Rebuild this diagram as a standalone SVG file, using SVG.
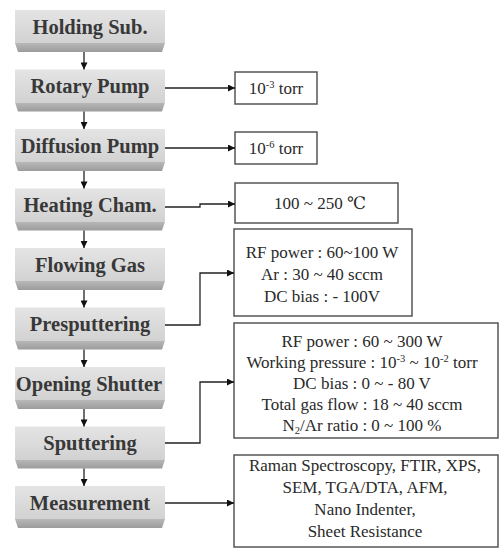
<svg xmlns="http://www.w3.org/2000/svg" width="500" height="549" viewBox="0 0 500 549">
<defs>
<linearGradient id="face" x1="0" y1="0" x2="0" y2="1">
<stop offset="0" stop-color="#e4e4e4"/>
<stop offset="1" stop-color="#d2d2d2"/>
</linearGradient>
<linearGradient id="bevel" x1="0" y1="0" x2="0" y2="1">
<stop offset="0" stop-color="#b8b8b8"/>
<stop offset="1" stop-color="#9c9c9c"/>
</linearGradient>
<marker id="ah" viewBox="0 0 10 10" refX="10" refY="5" markerWidth="8" markerHeight="7" markerUnits="userSpaceOnUse" orient="auto">
<path d="M0,0 L10,5 L0,10 z" fill="#111"/>
</marker>
</defs>
<style>
.face{fill:url(#face)}
.bev{fill:url(#bevel)}
.lt{font-family:'Liberation Serif','DejaVu Serif',serif;font-weight:bold;font-size:20.5px;fill:#383838;text-anchor:middle}
.box{fill:#fff;stroke:#555;stroke-width:1.5}
.rt{font-family:'Liberation Serif','DejaVu Serif',serif;font-size:17px;fill:#2a2a2a;text-anchor:middle}
.sup{font-size:10.5px}
.c{fill:none;stroke:#222;stroke-width:1.3}
</style>
<rect width="500" height="549" fill="#fff"/>

<g id="holding">
<rect class="face" x="15" y="10" width="150" height="33"/>
<polygon class="bev" points="15,43 165,43 162,52 18,52"/>
<text class="lt" x="90" y="33.5">Holding Sub.</text>
</g>
<g id="rotary">
<rect class="face" x="15" y="69.5" width="150" height="33"/>
<polygon class="bev" points="15,102.5 165,102.5 162,111.5 18,111.5"/>
<text class="lt" x="90" y="93">Rotary Pump</text>
</g>
<g id="diffusion">
<rect class="face" x="15" y="129" width="150" height="33"/>
<polygon class="bev" points="15,162 165,162 162,171 18,171"/>
<text class="lt" x="90" y="152.5">Diffusion Pump</text>
</g>
<g id="heating">
<rect class="face" x="15" y="188.5" width="150" height="33"/>
<polygon class="bev" points="15,221.5 165,221.5 162,230.5 18,230.5"/>
<text class="lt" x="90" y="212">Heating Cham.</text>
</g>
<g id="flowing">
<rect class="face" x="15" y="248" width="150" height="33"/>
<polygon class="bev" points="15,281 165,281 162,290 18,290"/>
<text class="lt" x="90" y="271.5">Flowing Gas</text>
</g>
<g id="presputtering">
<rect class="face" x="15" y="307.5" width="150" height="33"/>
<polygon class="bev" points="15,340.5 165,340.5 162,349.5 18,349.5"/>
<text class="lt" x="90" y="331">Presputtering</text>
</g>
<g id="shutter">
<rect class="face" x="15" y="367" width="150" height="33"/>
<polygon class="bev" points="15,400 165,400 162,409 18,409"/>
<text class="lt" x="89" y="390.5">Opening Shutter</text>
</g>
<g id="sputtering">
<rect class="face" x="15" y="426.5" width="150" height="33"/>
<polygon class="bev" points="15,459.5 165,459.5 162,468.5 18,468.5"/>
<text class="lt" x="90" y="450">Sputtering</text>
</g>
<g id="measurement">
<rect class="face" x="15" y="486" width="150" height="33"/>
<polygon class="bev" points="15,519 165,519 162,528 18,528"/>
<text class="lt" x="90" y="509.5">Measurement</text>
</g>

<g id="p-rotary">
<rect class="box" x="235" y="72" width="82" height="32"/>
<text class="rt" x="276" y="94">10<tspan class="sup" dy="-6">-3</tspan><tspan dy="6"> torr</tspan></text>
</g>
<g id="p-diffusion">
<rect class="box" x="235" y="132" width="82" height="32"/>
<text class="rt" x="276" y="154">10<tspan class="sup" dy="-6">-6</tspan><tspan dy="6"> torr</tspan></text>
</g>
<g id="p-heating">
<rect class="box" x="235" y="183" width="163" height="40"/>
<text class="rt" x="320" y="209">100 ~ 250 ℃</text>
</g>
<g id="p-presputtering">
<rect class="box" x="234" y="229" width="178" height="87"/>
<text class="rt" x="322" y="258">RF power : 60~100 W</text>
<text class="rt" x="322" y="280">Ar : 30 ~ 40 sccm</text>
<text class="rt" x="322" y="302">DC bias : - 100V</text>
</g>
<g id="p-sputtering">
<rect class="box" x="234" y="323" width="264" height="115"/>
<text class="rt" x="362" y="347">RF power : 60 ~ 300 W</text>
<text class="rt" x="362" y="368">Working pressure : 10<tspan class="sup" dy="-6">-3</tspan><tspan dy="6"> ~ 10</tspan><tspan class="sup" dy="-6">-2</tspan><tspan dy="6"> torr</tspan></text>
<text class="rt" x="362" y="389">DC bias : 0 ~ - 80 V</text>
<text class="rt" x="362" y="410">Total gas flow : 18 ~ 40 sccm</text>
<text class="rt" x="362" y="431">N<tspan class="sup" dy="3">2</tspan><tspan dy="-3">/Ar ratio : 0 ~ 100 %</tspan></text>
</g>
<g id="p-measurement">
<rect class="box" x="234" y="455" width="264" height="92"/>
<text class="rt" x="365" y="471">Raman Spectroscopy, FTIR, XPS,</text>
<text class="rt" x="365" y="493">SEM, TGA/DTA, AFM,</text>
<text class="rt" x="365" y="515">Nano Indenter,</text>
<text class="rt" x="365" y="537">Sheet Resistance</text>
</g>

<g id="connectors">
<line class="c" x1="84" y1="52" x2="84" y2="69.5" marker-end="url(#ah)"/>
<line class="c" x1="84" y1="111.5" x2="84" y2="129" marker-end="url(#ah)"/>
<line class="c" x1="84" y1="171" x2="84" y2="188.5" marker-end="url(#ah)"/>
<line class="c" x1="84" y1="230.5" x2="84" y2="248" marker-end="url(#ah)"/>
<line class="c" x1="84" y1="290" x2="84" y2="307.5" marker-end="url(#ah)"/>
<line class="c" x1="84" y1="349.5" x2="84" y2="367" marker-end="url(#ah)"/>
<line class="c" x1="84" y1="409" x2="84" y2="426.5" marker-end="url(#ah)"/>
<line class="c" x1="84" y1="468.5" x2="84" y2="486" marker-end="url(#ah)"/>
<line class="c" x1="165" y1="88" x2="235" y2="88" marker-end="url(#ah)"/>
<line class="c" x1="165" y1="148" x2="235" y2="148" marker-end="url(#ah)"/>
<polyline class="c" points="165,207 200,207 200,204 235,204" marker-end="url(#ah)"/>
<polyline class="c" points="165,325 200,325 200,273 234,273" marker-end="url(#ah)"/>
<polyline class="c" points="165,443 200,443 200,382 234,382" marker-end="url(#ah)"/>
<line class="c" x1="165" y1="503" x2="234" y2="503" marker-end="url(#ah)"/>
</g>
</svg>
